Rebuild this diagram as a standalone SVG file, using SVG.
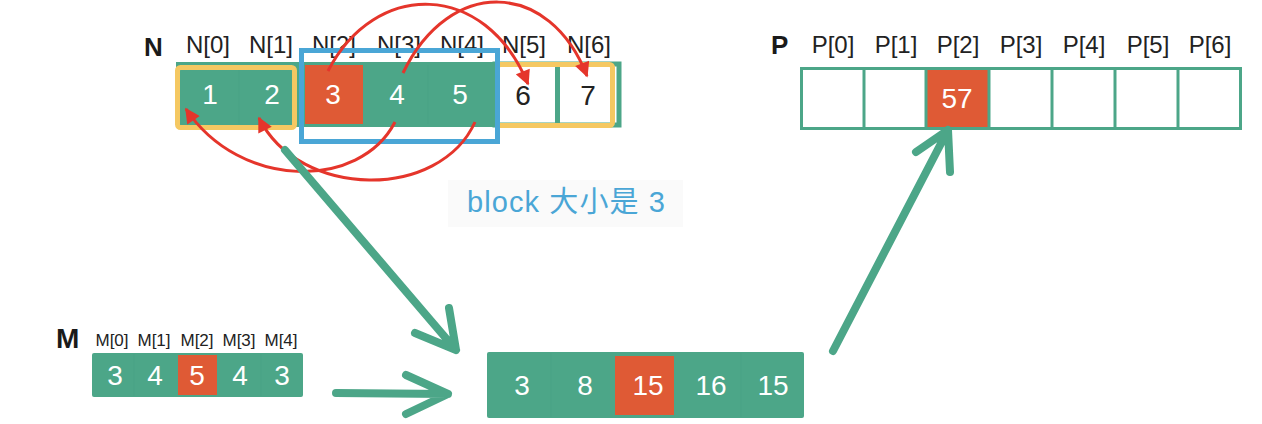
<svg xmlns="http://www.w3.org/2000/svg" width="1262" height="424" viewBox="0 0 1262 424">
<style>
.lbl{font-family:"Liberation Sans",Arial,sans-serif;font-size:24px;fill:#222;text-anchor:middle}
.mlbl{font-family:"Liberation Sans",Arial,sans-serif;font-size:17px;fill:#222;text-anchor:middle}
.title{font-family:"Liberation Sans",Arial,sans-serif;font-weight:bold;fill:#1a1a1a}
.val{font-family:"Liberation Sans",Arial,sans-serif;font-size:28px;fill:#fff;text-anchor:middle}
.vald{font-family:"Liberation Sans",Arial,sans-serif;font-size:28px;fill:#222;text-anchor:middle}
.g{fill:#4ca688}
.r{fill:#df5a35}
.sep{stroke:#49a285;stroke-width:1}
.big{fill:none;stroke:#4ca688;stroke-width:8;stroke-linecap:round;stroke-linejoin:round}
.red{fill:none;stroke:#e5352b;stroke-width:3}
</style>
<defs>
<marker id="rh" viewBox="0 0 10 10" refX="9" refY="5" markerWidth="17" markerHeight="15" markerUnits="userSpaceOnUse" orient="auto">
<path d="M0,0 L10,5 L0,10 z" fill="#e5352b"/>
</marker>
</defs>
<rect width="1262" height="424" fill="#fff"/>

<g id="N-array">
<text class="title" x="144" y="56" font-size="26">N</text>
<text class="lbl" x="208" y="53">N[0]</text>
<text class="lbl" x="271" y="53">N[1]</text>
<text class="lbl" x="334" y="53">N[2]</text>
<text class="lbl" x="399" y="53">N[3]</text>
<text class="lbl" x="462" y="53">N[4]</text>
<text class="lbl" x="524" y="53">N[5]</text>
<text class="lbl" x="589" y="53">N[6]</text>
<rect class="g" x="176" y="62" width="317" height="65"/>
<rect x="495" y="64" width="124" height="61" fill="#fff" stroke="#4ca688" stroke-width="5"/>
<rect class="g" x="555" y="64" width="5" height="61"/>
<line class="sep" x1="239" y1="65" x2="239" y2="124"/>
<line class="sep" x1="428" y1="65" x2="428" y2="124"/>
<rect class="r" x="305" y="65" width="58" height="59"/>
<text class="val" x="210" y="104">1</text>
<text class="val" x="272" y="104">2</text>
<text class="val" x="333" y="104">3</text>
<text class="val" x="397" y="104">4</text>
<text class="val" x="460" y="104">5</text>
<text class="vald" x="523" y="105">6</text>
<text class="vald" x="588" y="105">7</text>
<rect x="177.5" y="67.5" width="117" height="60" rx="3" fill="none" stroke="#f5c862" stroke-width="5"/>
<rect x="497.5" y="64.5" width="115" height="61" rx="3" fill="none" stroke="#f5c862" stroke-width="5"/>
<rect x="301.5" y="50.5" width="196" height="91" fill="none" stroke="#4aa6d6" stroke-width="5"/>
</g>

<g id="block-label">
<rect x="448" y="180" width="235" height="47" fill="#fafafa"/>
<text x="467" y="212" font-family="'Liberation Sans','Noto Sans CJK SC',sans-serif" font-size="29" fill="#4aa6d6" textLength="198" lengthAdjust="spacing">block 大小是 3</text>
</g>

<g id="P-array">
<text class="title" x="771" y="54" font-size="26">P</text>
<text class="lbl" x="833" y="53">P[0]</text>
<text class="lbl" x="896" y="53">P[1]</text>
<text class="lbl" x="958" y="53">P[2]</text>
<text class="lbl" x="1021" y="53">P[3]</text>
<text class="lbl" x="1084" y="53">P[4]</text>
<text class="lbl" x="1148" y="53">P[5]</text>
<text class="lbl" x="1210" y="53">P[6]</text>
<rect class="r" x="926" y="68" width="62" height="61"/>
<rect x="801.5" y="68.5" width="439" height="60" fill="none" stroke="#4ca688" stroke-width="3"/>
<g stroke="#4ca688" stroke-width="3">
<line x1="864" y1="68" x2="864" y2="129"/>
<line x1="926" y1="68" x2="926" y2="129"/>
<line x1="989" y1="68" x2="989" y2="129"/>
<line x1="1052" y1="68" x2="1052" y2="129"/>
<line x1="1115" y1="68" x2="1115" y2="129"/>
<line x1="1178" y1="68" x2="1178" y2="129"/>
</g>
<text class="val" x="957" y="108" font-size="26">57</text>
</g>

<g id="M-array">
<text class="title" x="56" y="348" font-size="28">M</text>
<text class="mlbl" x="112" y="346">M[0]</text>
<text class="mlbl" x="154" y="346">M[1]</text>
<text class="mlbl" x="197" y="346">M[2]</text>
<text class="mlbl" x="239" y="346">M[3]</text>
<text class="mlbl" x="281" y="346">M[4]</text>
<rect class="g" x="92" y="353" width="211" height="44" rx="2"/>
<line class="sep" x1="134" y1="354" x2="134" y2="396"/>
<line class="sep" x1="261" y1="354" x2="261" y2="396"/>
<rect class="r" x="178" y="355" width="39" height="40"/>
<text class="val" x="115" y="385" font-size="26">3</text>
<text class="val" x="155" y="385" font-size="26">4</text>
<text class="val" x="197" y="385" font-size="26">5</text>
<text class="val" x="240" y="385" font-size="26">4</text>
<text class="val" x="282" y="385" font-size="26">3</text>
</g>

<g id="result-array">
<rect class="g" x="487" y="352" width="317" height="66" rx="2"/>
<line class="sep" x1="551" y1="353" x2="551" y2="417"/>
<line class="sep" x1="741" y1="353" x2="741" y2="417"/>
<rect class="r" x="615" y="356" width="59" height="59"/>
<text class="val" x="522" y="395">3</text>
<text class="val" x="585" y="395">8</text>
<text class="val" x="648" y="395">15</text>
<text class="val" x="711" y="395">16</text>
<text class="val" x="773" y="395">15</text>
</g>

<g id="connectors">
<path class="red" d="M328,71 C375,-20 485,-20 528,84" marker-end="url(#rh)"/>
<path class="red" d="M403,73 C450,-24 550,-20 587,76" marker-end="url(#rh)"/>
<path class="red" d="M395,122 C360,190 240,190 186,109" marker-end="url(#rh)"/>
<path class="red" d="M475,122 C440,200 300,200 259,118" marker-end="url(#rh)"/>
<path class="big" d="M285,150 L456,350 M415,333 L456,350 L449,308"/>
<path class="big" d="M336,393 L448,394 M406,375 L448,394 L406,414"/>
<path class="big" d="M833,351 L948,130 M916,152 L948,130 L950,172"/>
</g>
</svg>
